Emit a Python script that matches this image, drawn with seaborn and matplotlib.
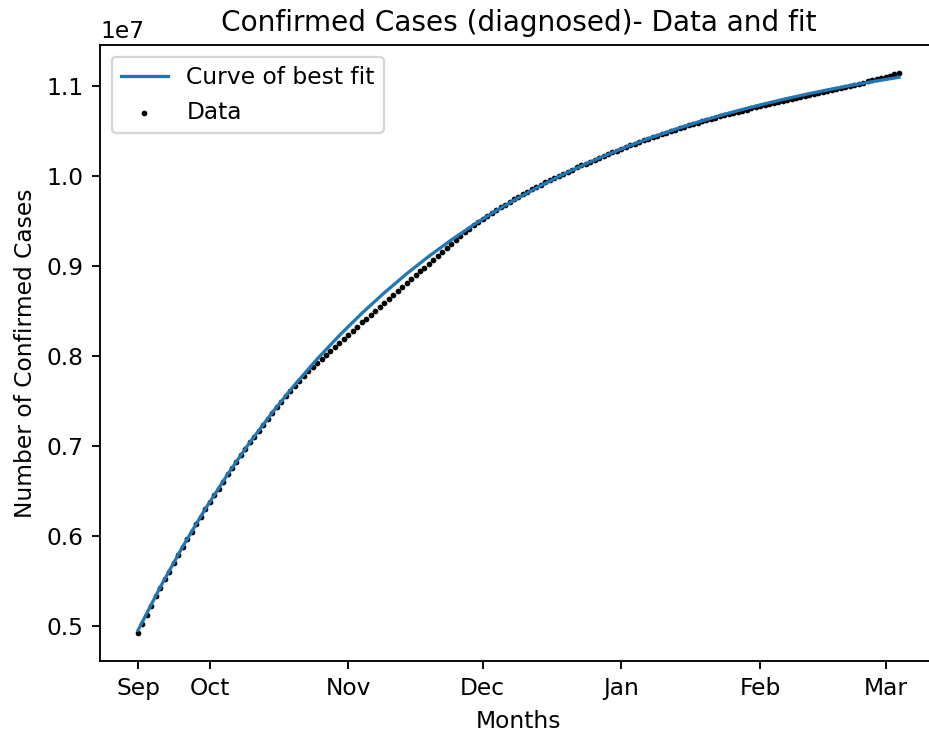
import matplotlib
matplotlib.use('Agg')
import matplotlib.pyplot as plt
import numpy as np
import pandas as pd
import seaborn as sns

# confirmed cases (millions), one value per day from mid September
cases_millions = [
    4.920, 5.022, 5.123, 5.225, 5.326, 5.423, 5.518, 5.603, 5.697, 5.790,
    5.878, 5.962, 6.047, 6.127, 6.211, 6.295, 6.372, 6.450, 6.526, 6.604,
    6.683, 6.753, 6.826, 6.895, 6.968, 7.040, 7.104, 7.172, 7.236, 7.303,
    7.370, 7.430, 7.492, 7.551, 7.612, 7.672, 7.727, 7.779, 7.832, 7.879,
    7.926, 7.969, 8.012, 8.054, 8.102, 8.150, 8.194, 8.238, 8.283, 8.327,
    8.376, 8.416, 8.462, 8.502, 8.548, 8.593, 8.635, 8.678, 8.720, 8.768,
    8.815, 8.854, 8.898, 8.943, 8.982, 9.026, 9.067, 9.113, 9.160, 9.206,
    9.252, 9.296, 9.340, 9.378, 9.417, 9.456, 9.490, 9.523, 9.560, 9.596,
    9.627, 9.657, 9.685, 9.716, 9.744, 9.772, 9.801, 9.826, 9.854, 9.880,
    9.906, 9.933, 9.956, 9.981, 10.005, 10.030, 10.052, 10.074, 10.098, 10.120,
    10.142, 10.162, 10.183, 10.203, 10.224, 10.245, 10.265, 10.283, 10.305, 10.323,
    10.343, 10.362, 10.379, 10.399, 10.416, 10.435, 10.451, 10.469, 10.485, 10.503,
    10.520, 10.535, 10.551, 10.566, 10.581, 10.596, 10.610, 10.624, 10.637, 10.651,
    10.665, 10.678, 10.690, 10.704, 10.716, 10.730, 10.742, 10.754, 10.767, 10.779,
    10.792, 10.803, 10.815, 10.827, 10.838, 10.850, 10.861, 10.872, 10.884, 10.895,
    10.906, 10.917, 10.928, 10.939, 10.950, 10.961, 10.972, 10.984, 10.995, 11.007,
    11.018, 11.031, 11.043, 11.055, 11.068, 11.081, 11.094, 11.107, 11.120, 11.134,
    11.149,
]

# fitted curve (millions), read every 5 days
fit_days = [0, 5, 10, 15, 20, 25, 30, 35, 40, 45, 50, 55, 60, 65, 70, 75, 80, 85,
            90, 95, 100, 105, 110, 115, 120, 125, 130, 135, 140, 145, 150, 155,
            160, 165, 170]
fit_millions = [
    4.950, 5.433, 5.882, 6.297, 6.683, 7.041, 7.372, 7.680, 7.966, 8.230,
    8.476, 8.703, 8.915, 9.111, 9.292, 9.461, 9.617, 9.762, 9.897, 10.021,
    10.137, 10.244, 10.344, 10.436, 10.522, 10.601, 10.675, 10.743, 10.806, 10.865,
    10.920, 10.970, 11.017, 11.061, 11.101,
]

month_ticks = [0, 16, 47, 77, 108, 139, 167]
month_labels = ['Sep', 'Oct', 'Nov', 'Dec', 'Jan', 'Feb', 'Mar']


def fit_plot(savename):
    dpi = 168
    fig = plt.figure(figsize=(929 / dpi, 736 / dpi), dpi=dpi)
    # right edge of the axes falls just outside the picture, as in the original crop
    ax = fig.add_axes([0.1076, 0.1019, 0.901, 0.837])

    df_data = pd.DataFrame({'day': np.arange(len(cases_millions)),
                            'cases': np.array(cases_millions) * 1e6})
    df_fit = pd.DataFrame({'day': fit_days,
                           'cases': np.array(fit_millions) * 1e6})

    sns.lineplot(data=df_fit, x='day', y='cases', color='#1f77b4',
                 linewidth=1.4, label='Curve of best fit', ax=ax)
    sns.scatterplot(data=df_data, x='day', y='cases', color='black', s=6,
                    linewidth=0, label='Data', ax=ax)

    ax.set_xticks(month_ticks)
    ax.set_xticklabels(month_labels)
    ax.set_xlabel('Months')
    ax.set_ylabel('Number of Confirmed Cases')
    ax.set_title('Confirmed Cases (diagnosed)- Data and fit')
    ax.legend(loc='upper left')

    fig.savefig(savename, dpi=dpi)
    plt.close()


if __name__ == '__main__':
    fit_plot('out.png')
